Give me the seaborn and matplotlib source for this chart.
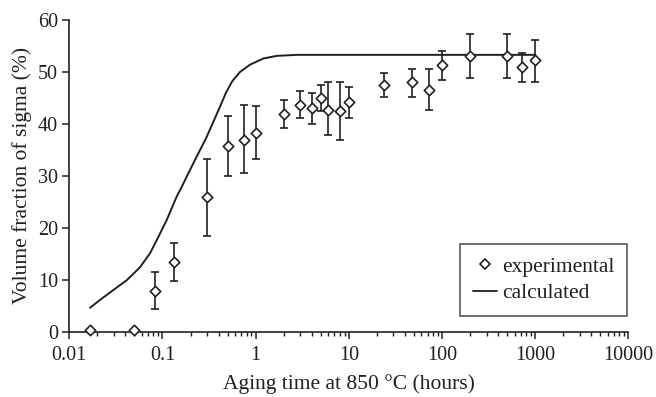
import numpy as np
import pandas as pd
import matplotlib
matplotlib.use("Agg")
import matplotlib.pyplot as plt
import seaborn as sns
from matplotlib.lines import Line2D
from matplotlib.ticker import LogLocator, FixedLocator, FixedFormatter, NullFormatter

# ================= data =================
# experimental points (hours, vol %)
exp_time = [0.0168, 0.05, 0.083, 0.134, 0.3, 0.5, 0.75, 1, 2, 3, 4, 5, 6, 8, 10,
            24, 48, 72, 100, 200, 500, 720, 1000]
exp_frac = [0.3, 0.3, 7.9, 13.5, 25.9, 35.7, 36.9, 38.3, 42.0, 43.6, 43.1, 45.0, 42.7, 42.4, 44.2,
            47.5, 48.0, 46.5, 51.4, 53.1, 53.1, 50.9, 52.3]
err_top = [None, None, 11.4, 17.1, 33.3, 41.5, 43.6, 43.5, 44.7, 46.3, 46.0, 47.4, 48.0, 48.1, 47.2,
           49.9, 50.5, 50.5, 54.1, 57.4, 57.4, 53.6, 56.2]
err_bot = [None, None, 4.4, 9.8, 18.4, 29.9, 30.5, 33.3, 39.3, 41.2, 39.9, 42.5, 37.8, 36.9, 41.2,
           45.2, 45.2, 42.7, 48.4, 48.9, 48.9, 48.1, 48.0]

# calculated curve
calc_time = [0.0167, 0.0213, 0.0296, 0.0413, 0.0574, 0.0735, 0.0867, 0.111, 0.142, 0.161,
             0.214, 0.298, 0.414, 0.48, 0.56, 0.679, 0.869, 1.21, 1.68, 2.75, 10, 100, 1000]
calc_frac = [4.6, 6.1, 8.0, 9.9, 12.4, 15.1, 17.6, 21.5, 26.0, 27.9,
             32.4, 37.5, 43.3, 46.0, 48.2, 50.0, 51.4, 52.6, 53.1, 53.3, 53.3, 53.3, 53.3]

x_ticks = [0.01, 0.1, 1, 10, 100, 1000, 10000]
x_labels = ["0.01", "0.1", "1", "10", "100", "1000", "10000"]
y_ticks = [0, 10, 20, 30, 40, 50, 60]
# =========================================

INK = "#231f20"

sns.set_theme(style="ticks")
plt.rcParams["font.family"] = ["Liberation Serif", "DejaVu Serif"]

df_exp = pd.DataFrame({"time": exp_time, "frac": exp_frac,
                       "top": err_top, "bot": err_bot})
df_calc = pd.DataFrame({"time": calc_time, "frac": calc_frac})

fig = plt.figure(figsize=(6.56, 3.97), dpi=100)
ax = fig.add_axes([0.1056, 0.1645, 0.8524, 0.785])

sns.lineplot(data=df_calc, x="time", y="frac", ax=ax, color=INK, linewidth=1.4,
             sort=False, legend=False)

eb = df_exp.dropna()
ax.errorbar(eb["time"], eb["frac"],
            yerr=[eb["frac"] - eb["bot"], eb["top"] - eb["frac"]],
            fmt="none", ecolor=INK, elinewidth=1.2, capsize=3, capthick=1.2, zorder=3)

sns.scatterplot(data=df_exp, x="time", y="frac", ax=ax, marker="D", s=28,
                facecolor="white", edgecolor=INK, linewidth=1.2, zorder=4,
                clip_on=False, legend=False)

ax.set_xscale("log")
ax.set_xlim(0.01, 10000)
ax.set_ylim(0, 60)
ax.xaxis.set_major_locator(FixedLocator(x_ticks))
ax.xaxis.set_major_formatter(FixedFormatter(x_labels))
ax.xaxis.set_minor_locator(LogLocator(base=10, subs=np.arange(2, 10)))
ax.xaxis.set_minor_formatter(NullFormatter())
ax.set_yticks(y_ticks)

sns.despine(ax=ax)
for s in ["left", "bottom"]:
    ax.spines[s].set_color(INK)
    ax.spines[s].set_linewidth(1.2)
ax.tick_params(axis="both", which="major", direction="out", length=5, width=1.1,
               color=INK, labelsize=14.5, labelcolor=INK)
ax.tick_params(axis="x", which="major", pad=5)
ax.tick_params(axis="y", which="major", pad=3)
ax.tick_params(axis="x", which="minor", direction="out", length=3, width=1.0, color=INK)

ax.set_xlabel("Aging time at 850 \u00b0C (hours)", fontsize=15.5, color=INK, labelpad=7)
ax.set_ylabel("Volume fraction of sigma (%)", fontsize=15.5, color=INK, labelpad=4)

handles = [
    Line2D([], [], marker="D", markersize=5, markerfacecolor="white",
           markeredgecolor=INK, markeredgewidth=1.2, linestyle="none"),
    Line2D([], [], color=INK, linewidth=1.3),
]
leg = ax.legend(handles, ["experimental", "calculated"], loc="lower right",
                bbox_to_anchor=(0.998, 0.05), borderaxespad=0, fontsize=15.5,
                frameon=True, fancybox=False, handlelength=1.1, handletextpad=0.25,
                borderpad=0.6, labelspacing=0.3)
leg.get_frame().set_edgecolor(INK)
leg.get_frame().set_linewidth(1.1)
for t in leg.get_texts():
    t.set_color(INK)

plt.savefig("out.png", dpi=100)
